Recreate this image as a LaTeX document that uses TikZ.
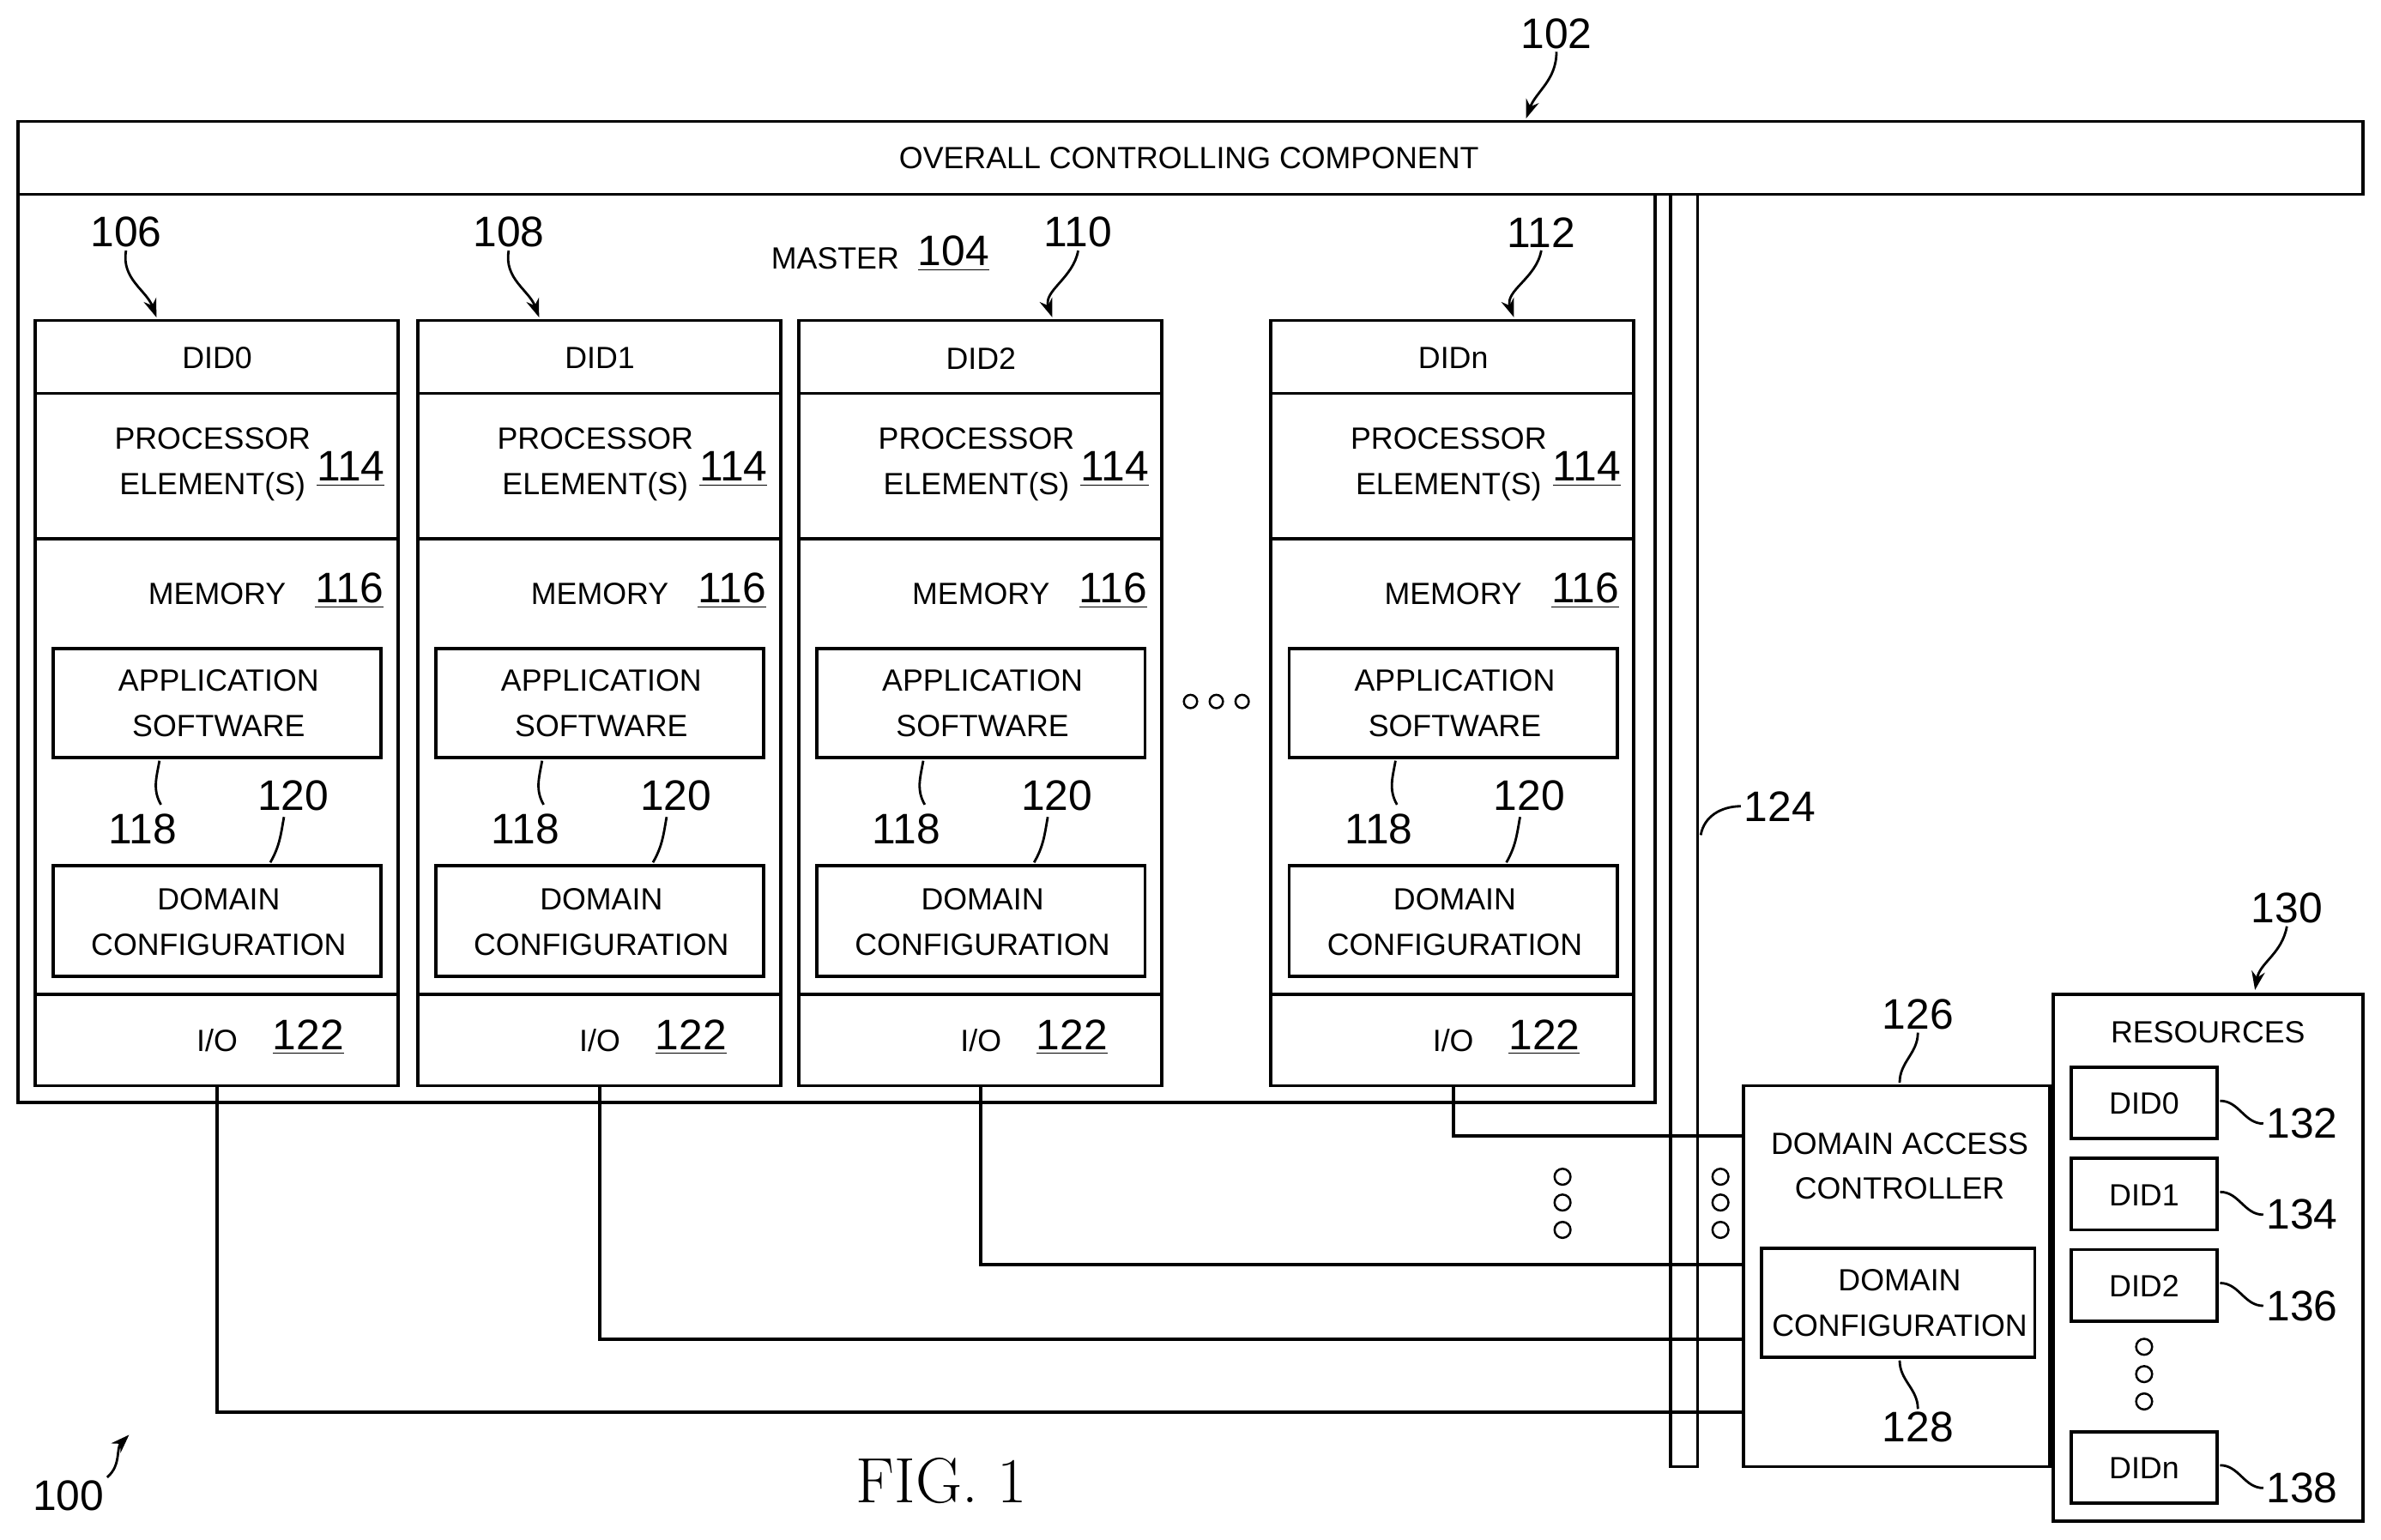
\documentclass[tikz,border=0pt]{standalone}
\usepackage{fontspec}
\setmainfont{Liberation Sans}
\usetikzlibrary{arrows.meta,positioning}
\tikzset{
  txt/.style={font=\fontsize{11.5}{17}\selectfont,align=center,inner sep=1pt},
  num/.style={font=\fontsize{16}{18}\selectfont,inner sep=1pt},
  box/.style={draw,line width=1.2pt},
  lead/.style={line width=0.9pt},
  tip/.style={lead,-{Stealth[length=7pt,width=5pt]}},
  dot/.style={draw,circle,minimum size=6pt,inner sep=0pt,line width=0.8pt}
}
\newcommand{\ul}[1]{\underline{#1}}
\begin{document}
\begin{tikzpicture}[x=0.02cm,y=-0.02cm]
  \useasboundingbox (0,0) rectangle (1568,1014);
  % top component
  \draw[box] (12,80) rectangle (1556,128);
  \node[txt] at (783,104) {OVERALL CONTROLLING COMPONENT};
  \node[num] (n102) at (1025,22) {102};
  \coordinate (t102) at (1005,78);
  \draw[tip] (n102.south) to[out=-90,in=70] (t102);
  % master
  \draw[box] (12,128) rectangle (1090,726);
  \node[txt] at (550,170) {MASTER};
  \node[num] at (628,167) {\ul{104}};
  % domains
  \foreach \x/\d/\r/\rx/\tx in {23/DID0/106/60/80,275/DID1/108/60/80,526/DID2/110/184/167,837/DIDn/112/178/160} {
    \draw[box] (\x,211) rectangle ++(239,504);
    \draw[box] (\x,259) -- ++(239,0) (\x,355) -- ++(239,0) (\x,655) -- ++(239,0);
    \node[txt] at (\x+120,236) {\d};
    \node[txt] at (\x+117,306) {PROCESSOR\\ELEMENT(S)};
    \node[num] at (\x+208,309) {\ul{114}};
    \node[txt] at (\x+120,391) {MEMORY};
    \node[num] at (\x+207,389) {\ul{116}};
    \draw[box] (\x+12,427) rectangle ++(216,72);
    \node[txt] at (\x+121,463) {APPLICATION\\SOFTWARE};
    \draw[box] (\x+12,570) rectangle ++(216,73);
    \node[txt] at (\x+121,607) {DOMAIN\\CONFIGURATION};
    \node[txt] at (\x+120,685) {I/O};
    \node[num] at (\x+180,683) {\ul{122}};
    \node[num] (a\r) at (\x+71,546) {118};
    \draw[lead] (a\r.north) ++(12,-4) to[out=120,in=-100] (\x+82,501);
    \node[num] (c\r) at (\x+170,524) {120};
    \draw[lead] (c\r.south) ++(-6,2) to[out=-100,in=60] (\x+155,568);
    \node[num] (r\r) at (\x+\rx,153) {\r};
    \draw[tip] (r\r.south) to[out=-100,in=110] (\x+\tx,209);
  }
  \foreach \xx in {784,801,818} \node[dot,minimum size=5pt] at (\xx,462) {};
  % bus
  \draw[box] (1100,128) -- (1100,966) -- (1118,966) -- (1118,128);
  \node[num] (n124) at (1172,531) {124};
  \draw[lead] (n124.west) to[out=180,in=80] (1120,550);
  % domain access controller
  \draw[box] (1148,715) rectangle (1350,966);
  \node[txt] at (1251,768) {DOMAIN ACCESS\\CONTROLLER};
  \draw[box] (1160,822) rectangle (1340,894);
  \node[txt] at (1251,858) {DOMAIN\\CONFIGURATION};
  \node[num] (n126) at (1263,668) {126};
  \draw[lead] (n126.south) to[out=-90,in=90] (1251,713);
  \node[num] (n128) at (1263,940) {128};
  \draw[lead] (n128.north) to[out=90,in=-90] (1251,896);
  % links
  \draw[box] (143,715) |- (1148,930);
  \draw[box] (395,715) |- (1148,882);
  \draw[box] (646,715) |- (1148,833);
  \draw[box] (957,715) |- (1148,748);
  \foreach \xx in {1029,1133} \foreach \y in {775,792,810}
    \node[dot] at (\xx,\y) {};
  % resources
  \draw[box] (1352,655) rectangle (1556,1002);
  \node[txt] at (1454,680) {RESOURCES};
  \node[num] (n130) at (1506,598) {130};
  \draw[tip] (n130.south) to[out=-100,in=80] (1485,652);
  \foreach \y/\d/\n in {703/DID0/132,763/DID1/134,823/DID2/136,943/DIDn/138} {
    \draw[box] (1364,\y) rectangle ++(96,47);
    \node[txt] at (1412,\y+24) {\d};
    \node[num] (r\n) at (1516,\y+37) {\n};
    \draw[lead] (r\n.west) to[out=180,in=0] (1462,\y+22);
  }
  \foreach \y in {887,905,923} \node[dot] at (1412,\y) {};
  % figure label
  \node[num] (n100) at (45,985) {100};
  \draw[tip] (n100.north east) to[out=40,in=-135] (85,945);
  \node[font=\fontfamily{lmr}\fontsize{24}{26}\selectfont] at (620,975) {FIG. 1};
\end{tikzpicture}
\end{document}
